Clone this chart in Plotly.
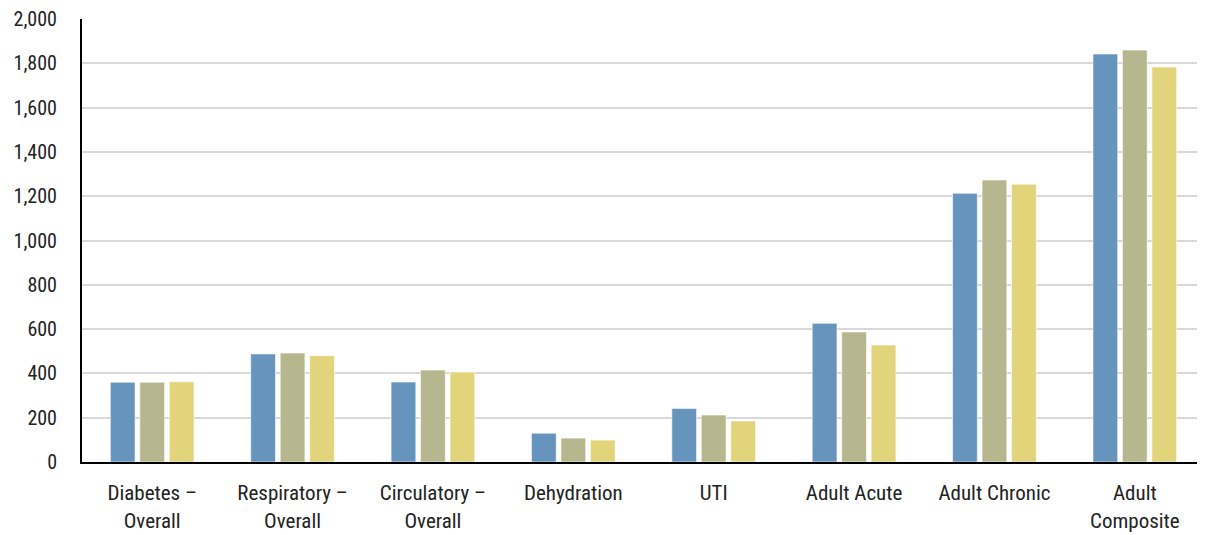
import plotly.graph_objects as go

categories = ["Diabetes –<br>Overall", "Respiratory –<br>Overall", "Circulatory –<br>Overall",
              "Dehydration", "UTI", "Adult Acute", "Adult Chronic", "Adult<br>Composite"]
series_1 = [360, 488, 361, 130, 242, 626, 1213, 1842]
series_2 = [360, 492, 415, 108, 212, 587, 1273, 1860]
series_3 = [362, 480, 406, 99, 185, 528, 1254, 1783]
y_ticks = [0, 200, 400, 600, 800, 1000, 1200, 1400, 1600, 1800, 2000]

colors = ["#6694BD", "#B6B78E", "#E2D47A"]
font_family = "Roboto Condensed, Liberation Sans Narrow, Roboto, sans-serif"

fig = go.Figure()
for name, vals, c in zip(["Series 1", "Series 2", "Series 3"], [series_1, series_2, series_3], colors):
    fig.add_trace(go.Bar(x=categories, y=vals, name=name, marker_color=c,
                         marker_line_color="rgba(255,255,255,0.6)", marker_line_width=1))

# page body has an 8px margin, so the figure is sized to end at the window edge
fig.update_layout(
    width=1197, height=527,
    margin=dict(l=74, r=0, t=11, b=73),
    paper_bgcolor="white", plot_bgcolor="white",
    barmode="group", bargap=0.37, bargroupgap=0.16,
    showlegend=False,
    font=dict(family=font_family, size=21, color="#222222"),
)
fig.update_xaxes(showline=True, linecolor="black", linewidth=2, ticks="", showgrid=False,
                 automargin=False, ticklabelstandoff=11,
                 tickfont=dict(size=21, color="#222222"))
fig.update_yaxes(range=[0, 2000], tickvals=y_ticks, tickformat=",d", showgrid=True,
                 gridcolor="#D9D9D9", gridwidth=1.5, showline=True, linecolor="black",
                 linewidth=2, ticks="", ticklabelstandoff=19, zeroline=False, automargin=False,
                 ticklabeloverflow="allow",
                 tickfont=dict(size=20, color="#222222"))

fig.write_html("out.html")
